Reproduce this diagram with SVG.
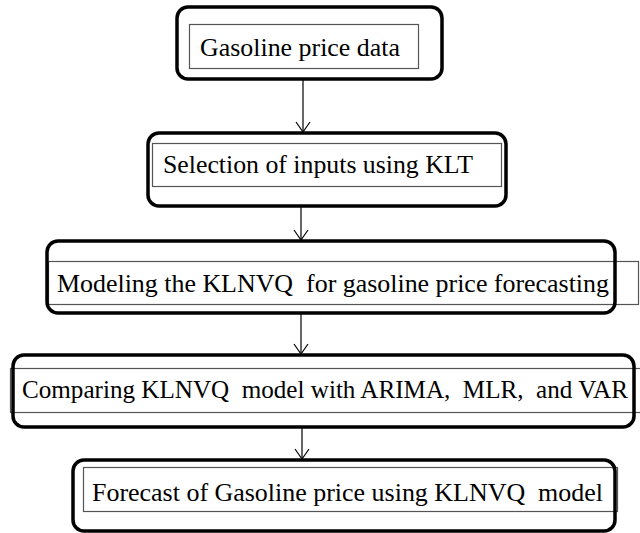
<svg xmlns="http://www.w3.org/2000/svg" width="640" height="533" viewBox="0 0 640 533">
<style>
.outer{fill:none;stroke:#000;stroke-width:3.5}
.inner{fill:#fff;stroke:#555;stroke-width:1.2}
.t{font-family:"Liberation Serif","Times New Roman",serif;font-size:26px;fill:#000}
.c{stroke:#000;stroke-width:1.2;fill:none}
</style>
<defs>
<marker id="arr" markerWidth="14" markerHeight="16" refX="11" refY="8" orient="auto" markerUnits="userSpaceOnUse" viewBox="0 0 14 16">
<path d="M1,1 L11,8 L1,15" fill="none" stroke="#000" stroke-width="1.2"/>
</marker>
</defs>
<rect width="640" height="533" fill="#fff"/>
<g id="connectors">
<line class="c" x1="303" y1="79" x2="303" y2="132" marker-end="url(#arr)"/>
<line class="c" x1="301" y1="206" x2="301" y2="240" marker-end="url(#arr)"/>
<line class="c" x1="301" y1="313" x2="301" y2="354" marker-end="url(#arr)"/>
<line class="c" x1="302" y1="427" x2="302" y2="459" marker-end="url(#arr)"/>
</g>
<g id="n1">
<rect class="inner" x="189.5" y="24.5" width="229" height="44"/>
<rect class="outer" x="177" y="7" width="265" height="72" rx="11"/>
<text class="t" x="200" y="56" textLength="200" lengthAdjust="spacingAndGlyphs">Gasoline price data</text>
</g>
<g id="n2">
<rect class="inner" x="152.5" y="143.5" width="349" height="43"/>
<rect class="outer" x="148" y="133" width="358" height="73" rx="11"/>
<text class="t" x="163" y="173" textLength="310" lengthAdjust="spacingAndGlyphs">Selection of inputs using KLT</text>
</g>
<g id="n3">
<rect class="inner" x="48.5" y="261.5" width="590" height="43"/>
<rect class="outer" x="47" y="241" width="568" height="72" rx="11"/>
<text class="t" x="57" y="292" textLength="552" lengthAdjust="spacingAndGlyphs" xml:space="preserve">Modeling the KLNVQ  for gasoline price forecasting</text>
</g>
<g id="n4">
<rect class="inner" x="10.5" y="368.5" width="640" height="44" stroke-width="2"/>
<rect class="outer" x="13" y="355" width="621" height="72" rx="11"/>
<text class="t" x="22" y="398" textLength="606" lengthAdjust="spacingAndGlyphs" xml:space="preserve">Comparing KLNVQ  model with ARIMA,  MLR,  and VAR</text>
</g>
<g id="n5">
<rect class="inner" x="83.5" y="467.5" width="534" height="44"/>
<rect class="outer" x="73" y="460" width="542" height="71" rx="11"/>
<text class="t" x="92" y="501" textLength="511" lengthAdjust="spacingAndGlyphs" xml:space="preserve">Forecast of Gasoline price using KLNVQ  model</text>
</g>
</svg>
